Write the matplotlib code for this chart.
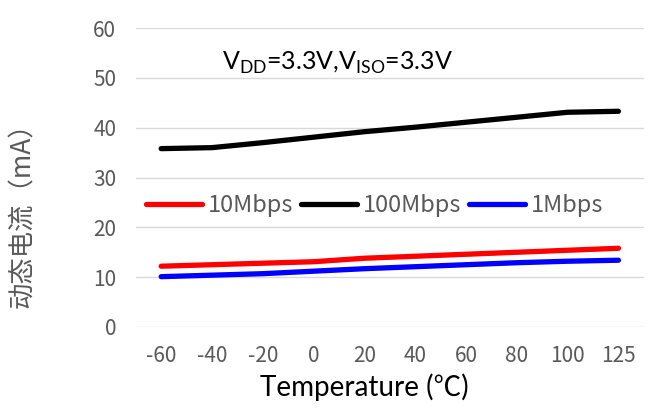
import matplotlib
matplotlib.use('Agg')
import matplotlib.pyplot as plt

temps = ['-60', '-40', '-20', '0', '20', '40', '60', '80', '100', '125']
mbps10 = [12.2, 12.5, 12.8, 13.1, 13.8, 14.2, 14.6, 15.0, 15.4, 15.8]
mbps100 = [35.8, 36.0, 37.0, 38.1, 39.2, 40.1, 41.1, 42.1, 43.1, 43.3]
mbps1 = [10.1, 10.4, 10.7, 11.2, 11.7, 12.1, 12.5, 12.9, 13.2, 13.4]

plt.rcParams['font.family'] = ['Noto Sans CJK SC', 'DejaVu Sans']

fig = plt.figure(figsize=(6.59, 4.19), dpi=100)
ax = fig.add_axes([0.206, 0.2196, 0.771, 0.7134])

x = range(len(temps))
ax.plot(x, mbps10, color='#ff0000', lw=3.8, solid_capstyle='round', label='10Mbps')
ax.plot(x, mbps100, color='#000000', lw=3.8, solid_capstyle='round', label='100Mbps')
ax.plot(x, mbps1, color='#0000ff', lw=3.8, solid_capstyle='round', label='1Mbps')

ax.set_xlim(-0.5, len(temps) - 0.5)
ax.set_ylim(0, 60)
ax.set_yticks(range(0, 61, 10))
ax.set_xticks(list(x))
ax.set_xticklabels(temps)
ax.grid(axis='y', color='#d9d9d9', lw=1)
ax.set_axisbelow(True)
for s in ax.spines.values():
    s.set_visible(False)
ax.tick_params(axis='y', length=0, labelsize=15, colors='#595959', pad=14)
ax.tick_params(axis='x', length=0, labelsize=15, colors='#595959', pad=13)

ax.set_ylabel('动态电流（mA）', fontsize=19, color='#595959')
ax.yaxis.set_label_coords(-0.197, 0.395)
ax.set_xlabel('Temperature (℃)', fontsize=20, color='black',
              family=['Lato', 'Noto Sans CJK SC'])
ax.xaxis.set_label_coords(0.449, -0.155)

ax.text(0.17, 0.885, r'V$_{\mathregular{DD}}$=3.3V,V$_{\mathregular{ISO}}$=3.3V',
        transform=ax.transAxes, fontsize=18, family=['Lato', 'DejaVu Sans'],
        ha='left', va='center')

leg = ax.legend(loc='center', bbox_to_anchor=(0.47, 0.405), ncol=3, frameon=False,
                fontsize=17, handlelength=2.4, columnspacing=0.3, handletextpad=0.25)
for t in leg.get_texts():
    t.set_color('#595959')

fig.savefig('out.png', dpi=100)
